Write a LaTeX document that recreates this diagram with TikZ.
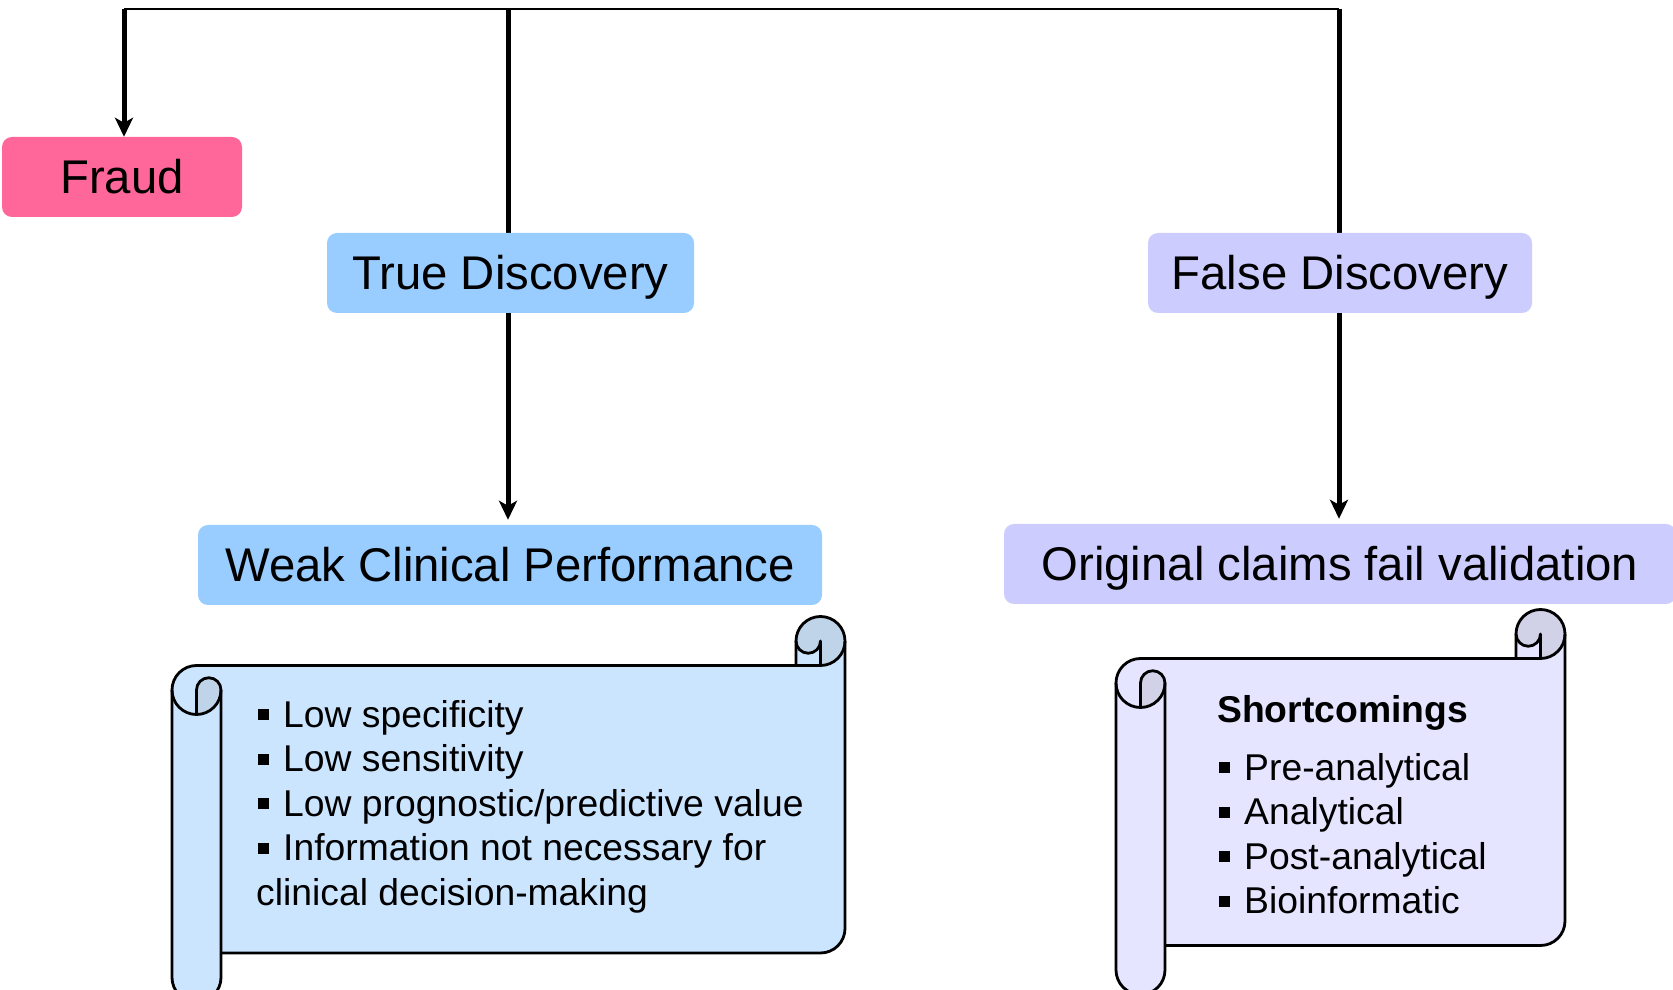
\documentclass[tikz,border=0pt]{standalone}
\usepackage{fontspec}
\setmainfont{Liberation Sans}
\usepackage{tikz}
\usetikzlibrary{backgrounds}
\usetikzlibrary{arrows.meta}
\usepackage{xcolor}
\definecolor{fraudpink}{HTML}{FF6699}
\definecolor{trueblue}{HTML}{99CCFF}
\definecolor{falselilac}{HTML}{CCCCFF}
\definecolor{scrollblue}{HTML}{CCE5FF}
\definecolor{curlblue}{HTML}{BFD3E9}
\definecolor{scrolllilac}{HTML}{E5E5FF}
\definecolor{curllilac}{HTML}{D1D1E8}
% square list bullet
\newcommand{\sqbullet}{\hspace*{2pt}\rule[7pt]{11pt}{11pt}\hspace{14pt}}
% scroll: #1 left, #2 top, #3 right, #4 bottom of the sheet, #5 sheet colour, #6 curl colour
\newcommand{\drawscroll}[6]{%
	\fill[#5] ({#1+24.5},{#2-49}) -- ({#3-24.5},{#2-49}) -- ({#3-24.5},{#2-24.5}) -- (#3,{#2-24.5}) -- (#3,{#4+24.5}) arc (0:-90:24.5) -- ({#1+24.5},#4) -- cycle;
	\fill[#5] ({#3-49},{#2-49}) rectangle ({#3-24.5},{#2-24.5});
	\fill[#5] (#1,{#2-73.5}) -- (#1,{#4-24.5}) arc (180:360:24.5) -- ({#1+49},{#2-73.5}) arc (0:180:24.5) -- cycle;
	%
	\fill[#6] ({#1+24.5},{#2-98}) -- ({#1+24.5},{#2-73.5}) arc (180:0:12.25) arc (0:-90:24.5) -- cycle;
	\fill[#6] ({#3-49},{#2-24.5}) arc (180:360:12.25) -- ({#3-24.5},{#2-49}) arc (-90:180:24.5) -- cycle;
	%
	\draw[scrollline] (#1,{#2-73.5}) arc (180:90:24.5) -- ({#3-24.5},{#2-49}) arc (-90:180:24.5) -- ({#3-49},{#2-49});
	\draw[scrollline] ({#3-49},{#2-24.5}) arc (180:360:12.25) -- ({#3-24.5},{#2-49});
	\draw[scrollline] (#3,{#2-24.5}) -- (#3,{#4+24.5}) arc (0:-90:24.5) -- ({#1+49},#4);
	\draw[scrollline] (#1,{#2-73.5}) -- (#1,{#4-24.5}) arc (180:360:24.5) -- ({#1+49},{#2-73.5});
	\draw[scrollline] (#1,{#2-73.5}) arc (180:360:24.5);
	\draw[scrollline] ({#1+24.5},{#2-98}) -- ({#1+24.5},{#2-73.5}) arc (180:0:12.25);
}

\begin{document}
\begin{tikzpicture}[x=1pt,y=1pt,
		titlebox/.style={rounded corners=10pt,minimum height=80pt,inner sep=0pt,text height=33.9pt,text depth=0pt,font=\fontsize{47.3}{56}\selectfont},
		listline/.style={inner sep=0pt,anchor=base west,font=\fontsize{37.3}{44.5}\selectfont},
		scrollline/.style={line width=2.8pt,line join=round},
		feedline/.style={line width=2.8pt},
		dropline/.style={line width=5pt,-{Stealth[length=19pt,width=18pt,inset=5pt]}}]
		\useasboundingbox (0,0) rectangle (1673,989);
		%
		\node[titlebox,fill=fraudpink,minimum width=240pt] (fraud) at (122,812) {Fraud};
		\node[titlebox,fill=trueblue,minimum width=367pt] (truedisc) at (510.5,716) {True Discovery};
		\node[titlebox,fill=falselilac,minimum width=384pt] (falsedisc) at (1340,716) {False Discovery};
		\node[titlebox,fill=trueblue,minimum width=624pt] (weak) at (510,424) {Weak Clinical Performance};
		\node[titlebox,fill=falselilac,minimum width=672pt] (failval) at (1340,425) {Original claims fail validation};
		%
		\coordinate (splitfraud) at (124,980);
		\coordinate (splittrue) at (508,980);
		\coordinate (splitfalse) at (1339,980);
		\begin{scope}[on background layer]
			\draw[feedline] (splitfraud) -- (splitfalse);
			\draw[dropline] (splitfraud) -- (splitfraud |- fraud.north);
			\draw[dropline,shorten >=5pt] (splittrue) -- (splittrue |- weak.north);
			\draw[dropline,shorten >=5pt] (splitfalse) -- (splitfalse |- failval.north);
		\end{scope}
		%
		\drawscroll{172}{372.5}{845}{36}{scrollblue}{curlblue}
		\drawscroll{1116}{379.5}{1565}{43.5}{scrolllilac}{curllilac}
		%
		\node[listline] (lowspec) at (256,262) {\sqbullet Low specificity};
		\node[listline] (lowsens) at (256,217.5) {\sqbullet Low sensitivity};
		\node[listline] (lowprog) at (256,173) {\sqbullet Low prognostic/predictive value};
		\node[listline] (notneeded) at (256,128.5) {\sqbullet Information not necessary for};
		\node[listline] (decision) at (256,84) {clinical decision-making};
		%
		\node[listline] (shortc) at (1217,267) {\textbf{Shortcomings}};
		\node[listline] (preana) at (1217,209) {\sqbullet Pre-analytical};
		\node[listline] (ana) at (1217,164.5) {\sqbullet Analytical};
		\node[listline] (postana) at (1217,120) {\sqbullet Post-analytical};
		\node[listline] (bioinf) at (1217,75.5) {\sqbullet Bioinformatic};
	\end{tikzpicture}
\end{document}
